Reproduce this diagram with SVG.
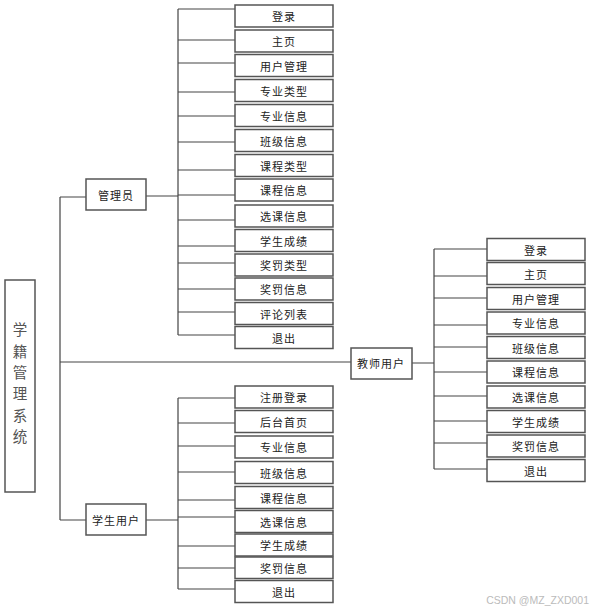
<svg xmlns="http://www.w3.org/2000/svg" width="594" height="610" viewBox="0 0 594 610">
<style>
.box{fill:#fff;stroke:#555;stroke-width:1.5}
.t{font-family:"Noto Sans CJK SC","Liberation Sans",sans-serif;font-size:11px;fill:#222;text-anchor:middle;dominant-baseline:central;letter-spacing:1px}
.r{font-family:"Noto Sans CJK SC",serif;font-size:14.5px;fill:#555;text-anchor:middle;dominant-baseline:central}
.ln{fill:none;stroke:#444;stroke-width:1.2}
.wm{font-family:"Liberation Sans",sans-serif;font-size:10.5px;fill:#bbb;text-anchor:end}
</style>
<rect width="594" height="610" fill="#fff"/>
<g id="connectors" class="ln">
<path d="M60 197V520M60 197H86M60 362H351M60 520H86"/>
<path d="M146 196H178M178 9V335"/>
<path d="M178 9H235M178 40H235M178 63H235M178 92H235M178 116H235M178 142H235M178 170H235M178 195H235M178 220H235M178 246H235M178 263H235M178 289H235M178 312H235M178 335H235"/>
<path d="M146 520H178M178 398V589"/>
<path d="M178 398H235M178 423H235M178 446H235M178 472H235M178 500H235M178 517H235M178 546H235M178 568H235M178 589H235"/>
<path d="M412 363H434M434 249V469"/>
<path d="M434 249H487M434 276H487M434 298H487M434 325H487M434 347H487M434 372H487M434 396H487M434 421H487M434 443H487M434 469H487"/>
</g>
<g id="root"><rect class="box" x="5" y="280" width="30" height="212"/>
<text class="r" x="20" y="328">学</text><text class="r" x="20" y="350">籍</text><text class="r" x="20" y="371">管</text><text class="r" x="20" y="392">理</text><text class="r" x="20" y="414">系</text><text class="r" x="20" y="435">统</text></g>
<g id="admin"><rect class="box" x="86" y="179" width="60" height="31"/><text class="t" x="116" y="195">管理员</text></g>
<g id="teacher"><rect class="box" x="351" y="348" width="61" height="31"/><text class="t" x="381" y="363">教师用户</text></g>
<g id="student"><rect class="box" x="86" y="504" width="60" height="31"/><text class="t" x="116" y="520">学生用户</text></g>
<g id="admin-items">
<g id="a1"><rect class="box" x="235" y="5" width="98" height="22"/><text class="t" x="284" y="16">登录</text></g>
<g id="a2"><rect class="box" x="235" y="30" width="98" height="22"/><text class="t" x="284" y="41">主页</text></g>
<g id="a3"><rect class="box" x="235" y="54.5" width="98" height="22"/><text class="t" x="284" y="65.5">用户管理</text></g>
<g id="a4"><rect class="box" x="235" y="79.5" width="98" height="22"/><text class="t" x="284" y="90.5">专业类型</text></g>
<g id="a5"><rect class="box" x="235" y="104.5" width="98" height="22"/><text class="t" x="284" y="115.5">专业信息</text></g>
<g id="a6"><rect class="box" x="235" y="129.5" width="98" height="22"/><text class="t" x="284" y="140.5">班级信息</text></g>
<g id="a7"><rect class="box" x="235" y="154.5" width="98" height="22"/><text class="t" x="284" y="165.5">课程类型</text></g>
<g id="a8"><rect class="box" x="235" y="179" width="98" height="22"/><text class="t" x="284" y="190">课程信息</text></g>
<g id="a9"><rect class="box" x="235" y="205" width="98" height="22"/><text class="t" x="284" y="216">选课信息</text></g>
<g id="a10"><rect class="box" x="235" y="229.5" width="98" height="22"/><text class="t" x="284" y="240.5">学生成绩</text></g>
<g id="a11"><rect class="box" x="235" y="254" width="98" height="22"/><text class="t" x="284" y="265">奖罚类型</text></g>
<g id="a12"><rect class="box" x="235" y="278" width="98" height="22"/><text class="t" x="284" y="289">奖罚信息</text></g>
<g id="a13"><rect class="box" x="235" y="302.5" width="98" height="22"/><text class="t" x="284" y="313.5">评论列表</text></g>
<g id="a14"><rect class="box" x="235" y="326.5" width="98" height="22"/><text class="t" x="284" y="337.5">退出</text></g>
</g>
<g id="student-items">
<g id="s1"><rect class="box" x="235" y="386" width="98" height="22"/><text class="t" x="284" y="397">注册登录</text></g>
<g id="s2"><rect class="box" x="235" y="410.5" width="98" height="22"/><text class="t" x="284" y="421.5">后台首页</text></g>
<g id="s3"><rect class="box" x="235" y="436" width="98" height="22"/><text class="t" x="284" y="447">专业信息</text></g>
<g id="s4"><rect class="box" x="235" y="461.5" width="98" height="22"/><text class="t" x="284" y="472.5">班级信息</text></g>
<g id="s5"><rect class="box" x="235" y="486.5" width="98" height="22"/><text class="t" x="284" y="497.5">课程信息</text></g>
<g id="s6"><rect class="box" x="235" y="510.5" width="98" height="22"/><text class="t" x="284" y="521.5">选课信息</text></g>
<g id="s7"><rect class="box" x="235" y="534" width="98" height="22"/><text class="t" x="284" y="545">学生成绩</text></g>
<g id="s8"><rect class="box" x="235" y="557" width="98" height="21.5"/><text class="t" x="284" y="568">奖罚信息</text></g>
<g id="s9"><rect class="box" x="235" y="580.5" width="98" height="22"/><text class="t" x="284" y="591.5">退出</text></g>
</g>
<g id="teacher-items">
<g id="t1"><rect class="box" x="487" y="238.5" width="98" height="22"/><text class="t" x="536" y="249.5">登录</text></g>
<g id="t2"><rect class="box" x="487" y="262.5" width="98" height="22"/><text class="t" x="536" y="273.5">主页</text></g>
<g id="t3"><rect class="box" x="487" y="287.5" width="98" height="22"/><text class="t" x="536" y="298.5">用户管理</text></g>
<g id="t4"><rect class="box" x="487" y="312" width="98" height="22"/><text class="t" x="536" y="323">专业信息</text></g>
<g id="t5"><rect class="box" x="487" y="336.5" width="98" height="22"/><text class="t" x="536" y="347.5">班级信息</text></g>
<g id="t6"><rect class="box" x="487" y="361" width="98" height="22"/><text class="t" x="536" y="372">课程信息</text></g>
<g id="t7"><rect class="box" x="487" y="386" width="98" height="22"/><text class="t" x="536" y="397">选课信息</text></g>
<g id="t8"><rect class="box" x="487" y="410.5" width="98" height="22"/><text class="t" x="536" y="421.5">学生成绩</text></g>
<g id="t9"><rect class="box" x="487" y="435" width="98" height="22"/><text class="t" x="536" y="446">奖罚信息</text></g>
<g id="t10"><rect class="box" x="487" y="459.5" width="98" height="22"/><text class="t" x="536" y="470.5">退出</text></g>
</g>
<text class="wm" x="589" y="604">CSDN @MZ_ZXD001</text>
</svg>
